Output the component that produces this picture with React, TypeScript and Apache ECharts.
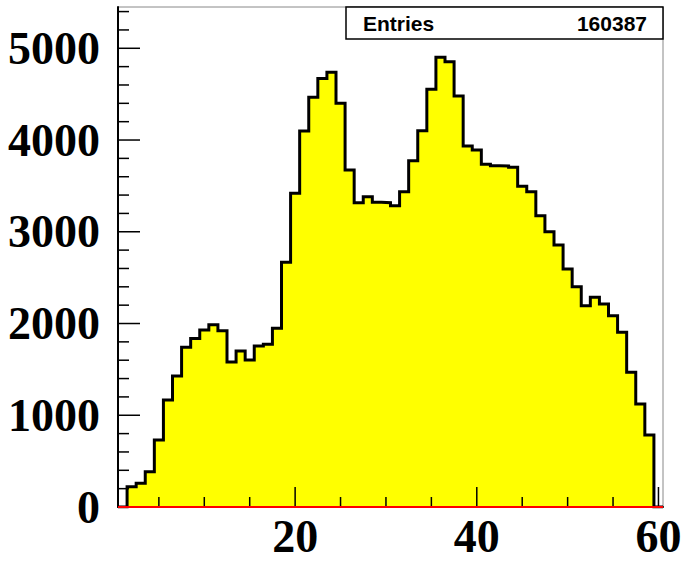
import React, { useEffect, useRef } from "react";
import * as echarts from "echarts";

// Histogram definition: 60 bins of width 1 from 0.5 to 60.5
const xMin = 0.5;
const xMax = 60.5;
const binWidth = 1;
const counts = [
  0, 220, 258, 385, 730, 1166, 1428, 1740, 1838, 1929,
  1987, 1922, 1580, 1700, 1602, 1755, 1773, 1948, 2667, 3419,
  4098, 4466, 4670, 4738, 4400, 3673, 3317, 3382, 3321, 3317,
  3284, 3437, 3773, 4102, 4553, 4902, 4854, 4480, 3935, 3891,
  3735, 3720, 3717, 3703, 3495, 3437, 3175, 3001, 2856, 2594,
  2401, 2194, 2286, 2213, 2085, 1904, 1468, 1123, 785, 0,
];
const entries = 160387;
const yMin = 0;
const yMax = 5450;
const yMajorTicks = [0, 1000, 2000, 3000, 4000, 5000];
const yMinorTicks = [
  200, 400, 600, 800, 1200, 1400, 1600, 1800, 2200, 2400, 2600, 2800,
  3200, 3400, 3600, 3800, 4200, 4400, 4600, 4800, 5200, 5400,
];
const xMajorTicks = [20, 40, 60];
const xMinorTicks = [5, 10, 15, 25, 30, 35, 45, 50, 55];

export default function App() {
  const ref = useRef<HTMLDivElement>(null);
  useEffect(() => {
    if (!ref.current) return;
    const chart = echarts.init(ref.current, undefined, { renderer: "svg" });
    const outline: number[][] = [];
    counts.forEach((c, i) => {
      const lo = xMin + i * binWidth;
      outline.push([lo, c], [lo + binWidth, c]);
    });
    const labelFont = {
      fontFamily: "Liberation Serif",
      fontWeight: "bold" as const,
      fontSize: 46,
      color: "#000",
    };
    // tick data: [value, length, axis(0=x,1=y)]
    const tickData: number[][] = [
      ...xMajorTicks.map((v) => [v, 20, 0]),
      ...xMinorTicks.map((v) => [v, 10, 0]),
      ...yMajorTicks.filter((v) => v !== 0).map((v) => [v, 22, 1]),
      ...yMinorTicks.map((v) => [v, 11, 1]),
    ];
    chart.setOption({
      animation: false,
      backgroundColor: "#fff",
      grid: {
        left: 118,
        right: 20,
        top: 7,
        bottom: 56,
        show: true,
        borderColor: "#888",
        borderWidth: 1,
        backgroundColor: "transparent",
        containLabel: false,
        outerBoundsMode: "none",
      },
      xAxis: {
        type: "value",
        min: xMin,
        max: xMax,
        position: "bottom",
        axisLine: { show: true, lineStyle: { color: "#000", width: 2 } },
        axisTick: { show: false },
        axisLabel: { ...labelFont, customValues: xMajorTicks, margin: 6 },
        splitLine: { show: false },
        z: 5,
      },
      yAxis: {
        type: "value",
        min: yMin,
        max: yMax,
        position: "left",
        axisLine: { show: true, lineStyle: { color: "#000", width: 2 } },
        axisTick: { show: false },
        axisLabel: {
          ...labelFont,
          customValues: yMajorTicks,
          margin: 18,
          formatter: (v: number) => String(v),
        },
        splitLine: { show: false },
        z: 5,
      },
      series: [
        {
          type: "line",
          data: outline,
          symbol: "none",
          lineStyle: { color: "#000", width: 3, join: "miter" },
          areaStyle: { color: "#ffff00", opacity: 1 },
          z: 2,
        },
        {
          type: "line",
          data: [[xMin, 0], [xMax, 0]],
          symbol: "none",
          lineStyle: { color: "#ff0000", width: 2 },
          z: 6,
        },
        {
          type: "custom",
          data: tickData,
          z: 4,
          silent: true,
          clip: false,
          renderItem: (params: any, api: any) => {
            const v = api.value(0);
            const len = api.value(1);
            const axis = api.value(2);
            if (axis === 0) {
              const p = api.coord([v, yMin]);
              return {
                type: "line",
                shape: { x1: p[0], y1: p[1], x2: p[0], y2: p[1] - len },
                style: { stroke: "#000", lineWidth: 1.5 },
              };
            }
            const p = api.coord([xMin, v]);
            return {
              type: "line",
              shape: { x1: p[0], y1: p[1], x2: p[0] + len, y2: p[1] },
              style: { stroke: "#000", lineWidth: 1.5 },
            };
          },
        },
      ],
      graphic: [
        {
          type: "rect",
          shape: { x: 346, y: 7, width: 317, height: 32 },
          style: { fill: "#fff", stroke: "#000", lineWidth: 1.5 },
          z: 10,
        },
        {
          type: "text",
          x: 363,
          y: 23,
          style: {
            text: "Entries",
            font: "bold 21px 'Liberation Sans'",
            fill: "#000",
            textAlign: "left",
            textVerticalAlign: "middle",
          },
          z: 11,
        },
        {
          type: "text",
          x: 647,
          y: 23,
          style: {
            text: String(entries),
            font: "bold 21px 'Liberation Sans'",
            fill: "#000",
            textAlign: "right",
            textVerticalAlign: "middle",
          },
          z: 11,
        },
      ],
    });
    return () => chart.dispose();
  }, []);
  return (
    <div
      ref={ref}
      style={{ position: "absolute", left: 0, top: 0, width: 683, height: 563 }}
    />
  );
}
